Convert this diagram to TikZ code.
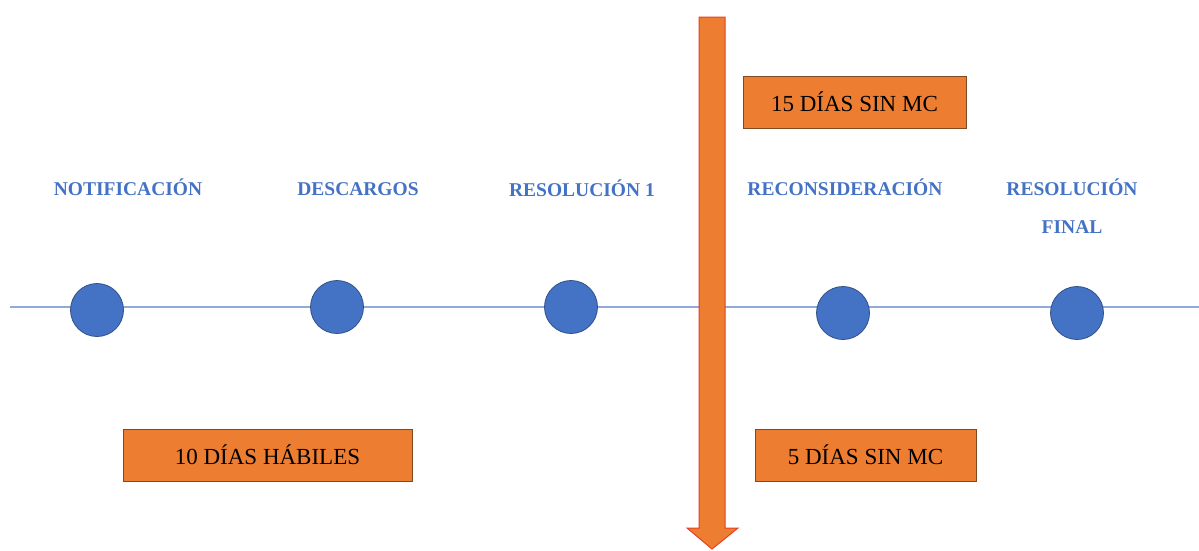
\documentclass[tikz,border=0pt]{standalone}
\usepackage{fontspec}
\setmainfont{Liberation Serif}
\definecolor{tblue}{HTML}{4472C4}
\definecolor{tline}{HTML}{8FAADC}
\definecolor{torange}{HTML}{ED7D31}
\definecolor{tborder}{HTML}{7F4A22}
\definecolor{tred}{HTML}{E8401C}
\begin{document}
\begin{tikzpicture}[x=1pt,y=-1pt,
  dot/.style={circle,draw=tblue!70!black,line width=0.8pt,fill=tblue,minimum size=53pt,inner sep=0pt},
  lbl/.style={text=tblue,font=\fontsize{19.5}{30}\selectfont\bfseries,align=center,inner sep=0pt,anchor=base},
  dbox/.style={draw=tborder,line width=0.7pt,fill=torange,inner sep=0pt,font=\fontsize{23}{26}\selectfont,text=black}]
\useasboundingbox (0,0) rectangle (1199,550);
% timeline
\coordinate (L0) at (10,307);
\coordinate (L1) at (1199,307);
\draw[tline,line width=1.1pt] (L0) -- (L1);
% dots
\node[dot] (d1) at (97,310) {};
\node[dot] (d2) at (337,307) {};
\node[dot] (d3) at (571,307) {};
\node[dot] (d4) at (843,313) {};
\node[dot] (d5) at (1077,313) {};
% labels
\node[lbl] (t1) at (128,195) {NOTIFICACIÓN};
\node[lbl] (t2) at (358,195) {DESCARGOS};
\node[lbl] (t3) at (582,196) {RESOLUCIÓN 1};
\node[lbl] (t4) at (845,195) {RECONSIDERACIÓN};
\node[lbl] (t5) at (1072,195) {RESOLUCIÓN};
\node[lbl] (t6) at (1072,233) {FINAL};
% big arrow
\draw[tred,line width=1pt,fill=torange,line join=miter]
  (699,17) -- (725,17) -- (725,528) -- (738,528) -- (712,549) -- (687,528) -- (699,528) -- cycle;
% boxes
\node[dbox,minimum width=223pt,minimum height=52pt] (b1) at (854.5,102) {15 DÍAS SIN MC};
\node[dbox,minimum width=289pt,minimum height=52pt] (b2) at (267.5,455) {10 DÍAS HÁBILES};
\node[dbox,minimum width=221pt,minimum height=52pt] (b3) at (865.5,455) {5 DÍAS SIN MC};
\end{tikzpicture}
\end{document}
